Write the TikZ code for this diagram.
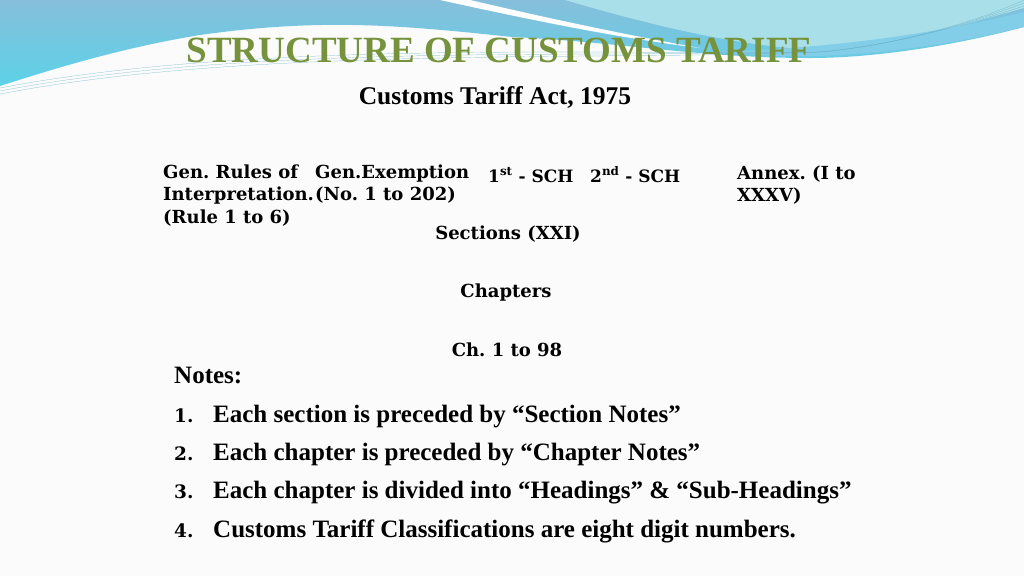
\documentclass[tikz,border=0pt]{standalone}
\usepackage{fontspec}
\setmainfont{Liberation Serif}
\newfontfamily\geofont{DejaVu Serif}
\usetikzlibrary{positioning}
\frenchspacing

\definecolor{titlegreen}{HTML}{76923C}
\definecolor{skyblue}{HTML}{86BFDB}
\definecolor{skycyan}{HTML}{5CD2E8}
\definecolor{palecyan}{HTML}{A9DFE9}
\definecolor{bandblue}{HTML}{4DB8DD}
\definecolor{paper}{HTML}{FBFBFB}

\newcommand{\rows}[1]{\begin{tabular}[t]{@{}l@{}}#1\end{tabular}}

\tikzset{
  hdr/.style={anchor=base west, inner sep=0pt, font=\geofont\bfseries\fontsize{18}{22.5}\selectfont},
  sch/.style={hdr, font=\geofont\bfseries\fontsize{17}{17}\selectfont},
  note/.style={anchor=base west, inner sep=0pt, font=\bfseries\fontsize{25}{25}\selectfont},
  num/.style={anchor=base west, inner sep=0pt, font=\geofont\bfseries\fontsize{18.5}{18.5}\selectfont},
}

\begin{document}
\begin{tikzpicture}[x=1pt,y=-1pt]
  \useasboundingbox (0,0) rectangle (1024,576);
  \fill[paper] (0,0) rectangle (1024,576);

  % header waves
  \shade[top color=skyblue, bottom color=skycyan]
    (0,0) -- (1024,0) -- (1024,27)
    .. controls (960,44) and (880,58) .. (810,58)
    .. controls (700,58) and (620,42) .. (512,37)
    .. controls (400,25) and (320,18) .. (200,35)
    .. controls (120,48) and (50,70) .. (0,86) -- cycle;
  \fill[palecyan] (565,0) .. controls (640,22) and (720,42) .. (790,48)
    .. controls (880,52) and (960,25) .. (1024,8) -- (1024,0) -- cycle;
  \fill[bandblue!70] (700,52) .. controls (820,50) and (930,35) .. (1024,12)
    -- (1024,27) .. controls (950,45) and (860,58) .. (780,56) -- cycle;
  \fill[white] (440,0) .. controls (540,22) and (620,38) .. (700,48)
    .. controls (610,32) and (530,14) .. (470,0) -- cycle;
  \foreach \d in {0,3,6}
    \draw[skyblue!80!teal, very thin] (0,88+\d) .. controls (250,40+\d) and (600,55+\d) .. (820,52)
      .. controls (900,45) and (980,20) .. (1024,0+\d);

  % titles
  \node[anchor=base, inner sep=0pt, text=titlegreen, font=\bfseries\fontsize{37}{37}\selectfont] (title) at (499,62) {STRUCTURE OF CUSTOMS TARIFF};
  \node[anchor=base, inner sep=0pt, font=\bfseries\fontsize{25.5}{25.5}\selectfont] (act) at (495,104) {Customs Tariff Act, 1975};

  % first row
  \node[hdr] (rules) at (163,178) {\rows{Gen. Rules of\\Interpretation.\\(Rule 1 to 6)}};
  \node[hdr] (exempt) at (315,178) {\rows{Gen.Exemption\\(No. 1 to 202)}};
  \node[sch] (sch1) at (488,182) {1\textsuperscript{st} - SCH};
  \node[sch] (sch2) at (590,182) {2\textsuperscript{nd} - SCH};
  \node[hdr] (annex) at (737,179) {\rows{Annex. (I to\\XXXV)}};

  % middle column
  \node[hdr, anchor=base] (sect) at (508,239) {Sections (XXI)};
  \node[hdr, anchor=base] (chap) at (506,297) {Chapters};
  \node[hdr, anchor=base] (chno) at (507,356) {Ch. 1 to 98};

  % notes
  \node[note] (notes) at (174,383) {Notes:};
  \foreach \i/\t [count=\k] in {422/{Each section is preceded by “Section Notes”},
      460/{Each chapter is preceded by “Chapter Notes”},
      498/{Each chapter is divided into “Headings” \& “Sub-Headings”},
      537/{Customs Tariff Classifications are eight digit numbers.}} {
    \node[num] (n\k) at (174,\i) {\k.};
    \node[note] (item\k) at (213,\i) {\t};
  }
\end{tikzpicture}
\end{document}
